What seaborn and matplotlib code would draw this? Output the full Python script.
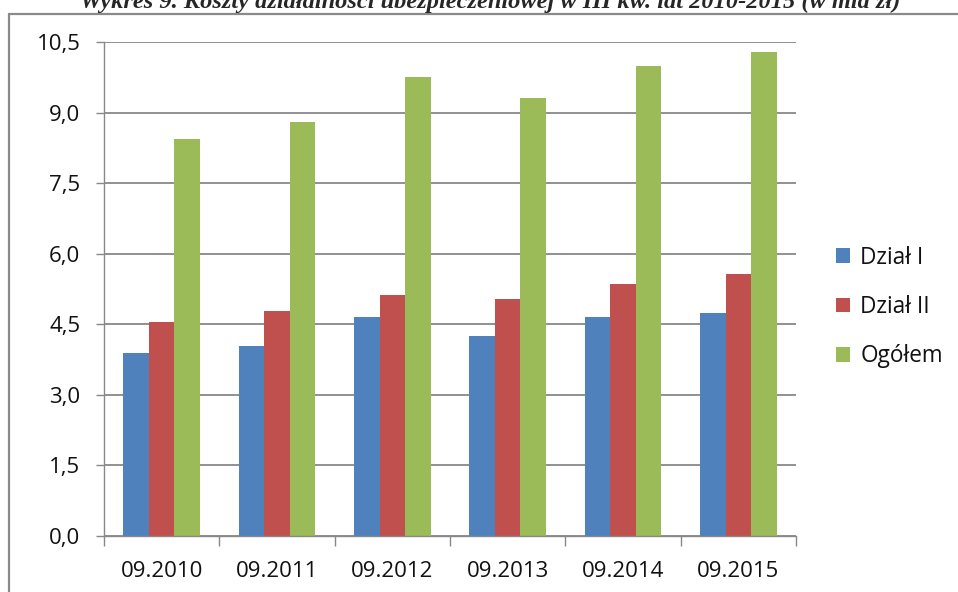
"""Wykres 9: koszty działalności ubezpieczeniowej w III kw. 2010-2015."""
import matplotlib
matplotlib.use('Agg')
import matplotlib.pyplot as plt
from matplotlib.lines import Line2D
from matplotlib.ticker import FixedLocator, FuncFormatter
import numpy as np
import pandas as pd
import seaborn as sns

okresy = ['09.2010', '09.2011', '09.2012', '09.2013', '09.2014', '09.2015']
dzial_1 = [3.90, 4.03, 4.65, 4.26, 4.65, 4.73]
dzial_2 = [4.54, 4.78, 5.12, 5.04, 5.35, 5.56]
ogolem = [8.44, 8.81, 9.76, 9.32, 10.00, 10.28]
serie = ['Dział I', 'Dział II', 'Ogółem']
kolory = ['#4F81BD', '#C0504D', '#9BBB59']
y_ticks = [0.0, 1.5, 3.0, 4.5, 6.0, 7.5, 9.0, 10.5]

tytul = 'Wykres 9. Koszty działalności ubezpieczeniowej w III kw. lat 2010-2015 (w mld zł)'

df = pd.DataFrame({
    'okres': okresy * 3,
    'seria': np.repeat(serie, len(okresy)),
    'wartosc': dzial_1 + dzial_2 + ogolem,
})

sns.set_style('white')
plt.rcParams['font.family'] = ['Open Sans', 'DejaVu Sans']

W, H = 958, 592
fig = plt.figure(figsize=(W / 100, H / 100), dpi=100)
ax = fig.add_axes([104 / W, 1 - 536 / H, (796 - 104) / W, (536 - 42) / H])

sns.barplot(data=df, x='okres', y='wartosc', hue='seria', palette=kolory,
            width=0.665, saturation=1, edgecolor='none', ax=ax)

grid_c = '#888888'
ax.set_xlim(-0.5, len(okresy) - 0.5)
ax.set_ylim(0, 10.5)
ax.yaxis.set_major_locator(FixedLocator(y_ticks))
ax.yaxis.set_major_formatter(FuncFormatter(lambda v, _: f'{v:.1f}'.replace('.', ',')))
ax.grid(axis='y', color=grid_c, linewidth=1.3)
ax.set_axisbelow(True)
for s in ['top', 'right']:
    ax.spines[s].set_visible(False)
for s in ['left', 'bottom']:
    ax.spines[s].set_color(grid_c)
    ax.spines[s].set_linewidth(1.0)

ax.set_xlabel('')
ax.set_ylabel('')
ax.tick_params(axis='y', which='major', length=6, color=grid_c, width=1.0,
               direction='out', labelsize=16, pad=11, left=True)
ax.tick_params(axis='x', which='major', length=0, labelsize=16, pad=18)
ax.xaxis.set_minor_locator(FixedLocator(np.arange(-0.5, len(okresy), 1.0)))
ax.tick_params(axis='x', which='minor', length=7, color=grid_c, width=1.0,
               direction='out', bottom=True)
for lab in ax.get_xticklabels() + ax.get_yticklabels():
    lab.set_color('#111111')

handles, labels = ax.get_legend_handles_labels()
ax.legend(handles, labels, loc='center left', bbox_to_anchor=(836 / W, 1 - 307 / H),
          bbox_transform=fig.transFigure, frameon=False, fontsize=16.3,
          handlelength=0.62, handleheight=0.62, handletextpad=0.45,
          labelspacing=1.12, borderpad=0, borderaxespad=0, labelcolor='#111111')

# ramka wykresu (obcięta przy krawędziach obrazu, jak w oryginale)
ramka = dict(color='#8a8a8a', linewidth=1.6, transform=fig.transFigure)
fig.add_artist(Line2D([9 / W, 1.0], [1 - 14 / H, 1 - 14 / H], **ramka))
fig.add_artist(Line2D([9 / W, 9 / W], [0.0, 1 - 14 / H], **ramka))

fig.text(490 / W, 1 - 8 / H, tytul, ha='center', va='baseline',
         family=['Liberation Serif', 'DejaVu Serif'], fontweight='bold',
         fontstyle='italic', fontsize=17.6)

fig.savefig('out.png', dpi=100)
